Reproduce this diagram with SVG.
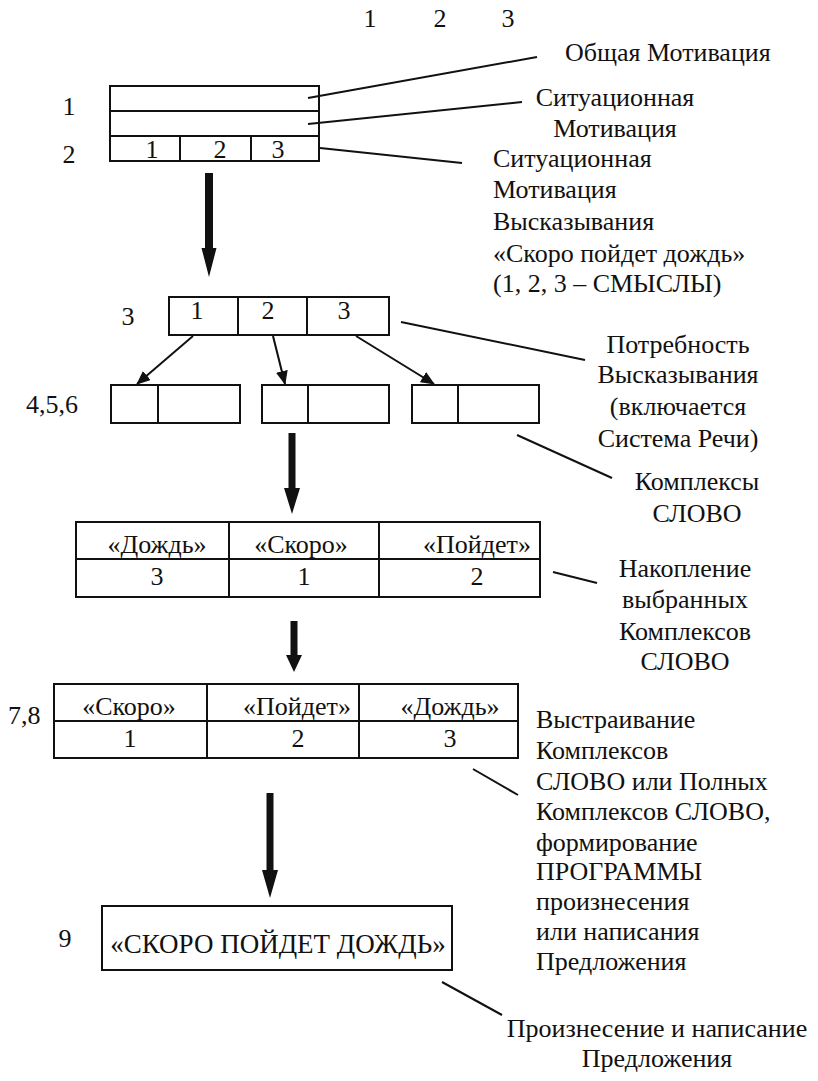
<svg xmlns="http://www.w3.org/2000/svg" width="818" height="1081" viewBox="0 0 818 1081">
<style>
text{font-family:'Liberation Serif','DejaVu Serif',serif;font-size:26px;fill:#111}
.m{text-anchor:middle}
.box{fill:none;stroke:#111;stroke-width:2}
.ln{stroke:#111;stroke-width:2;fill:none}
.big{fill:#111}
.big9{font-size:27px}
</style>
<defs>
<marker id="ah" markerWidth="14" markerHeight="12" refX="13" refY="6" orient="auto" markerUnits="userSpaceOnUse">
<path d="M0,0 L14,6 L0,12 Z" fill="#111"/>
</marker>
</defs>
<rect width="818" height="1081" fill="#fff"/>
<g font-family="Liberation Serif, DejaVu Serif, serif">
<g id="top-numbers">
<text x="370" y="27" class="m">1</text>
<text x="440" y="27" class="m">2</text>
<text x="508" y="27" class="m">3</text>
</g>

<g id="node-motivation">
<rect class="box" x="110" y="86" width="209" height="75"/>
<line class="ln" x1="110" y1="111" x2="319" y2="111"/>
<line class="ln" x1="110" y1="136" x2="319" y2="136"/>
<line class="ln" x1="180" y1="136" x2="180" y2="161"/>
<line class="ln" x1="251" y1="136" x2="251" y2="161"/>
<text x="152" y="158" class="m">1</text>
<text x="220" y="158" class="m">2</text>
<text x="278" y="158" class="m">3</text>
<text x="69" y="115" class="m">1</text>
<text x="69" y="163" class="m">2</text>
</g>

<g id="label-general">
<text x="565" y="61">Общая Мотивация</text>
</g>
<g id="label-situational">
<text x="615" y="106" class="m">Ситуационная</text>
<text x="615" y="137" class="m">Мотивация</text>
</g>
<g id="label-utterance">
<text x="493" y="167">Ситуационная</text>
<text x="493" y="198">Мотивация</text>
<text x="493" y="230">Высказывания</text>
<text x="493" y="262">«Скоро пойдет дождь»</text>
<text x="493" y="292">(1, 2, 3 – СМЫСЛЫ)</text>
</g>

<g id="node-meanings">
<rect class="box" x="169" y="297" width="220" height="38"/>
<line class="ln" x1="238" y1="297" x2="238" y2="335"/>
<line class="ln" x1="307" y1="297" x2="307" y2="335"/>
<text x="197" y="319" class="m">1</text>
<text x="268" y="319" class="m">2</text>
<text x="344" y="319" class="m">3</text>
<text x="128" y="325" class="m">3</text>
</g>

<g id="node-complexes">
<rect class="box" x="111" y="385" width="129" height="38"/>
<line class="ln" x1="158" y1="385" x2="158" y2="423"/>
<rect class="box" x="262" y="385" width="127" height="38"/>
<line class="ln" x1="308" y1="385" x2="308" y2="423"/>
<rect class="box" x="412" y="385" width="127" height="38"/>
<line class="ln" x1="458" y1="385" x2="458" y2="423"/>
<text x="26" y="413">4,5,6</text>
</g>

<g id="label-need">
<text x="678" y="353" class="m">Потребность</text>
<text x="678" y="383" class="m">Высказывания</text>
<text x="678" y="415" class="m">(включается</text>
<text x="678" y="447" class="m">Система Речи)</text>
</g>
<g id="label-complexes">
<text x="697" y="490" class="m">Комплексы</text>
<text x="697" y="522" class="m">СЛОВО</text>
</g>

<g id="node-table1">
<rect class="box" x="76" y="522" width="464" height="75"/>
<line class="ln" x1="76" y1="559" x2="540" y2="559"/>
<line class="ln" x1="229" y1="522" x2="229" y2="597"/>
<line class="ln" x1="379" y1="522" x2="379" y2="597"/>
<text x="157" y="553" class="m">«Дождь»</text>
<text x="301" y="553" class="m">«Скоро»</text>
<text x="477" y="553" class="m">«Пойдет»</text>
<text x="157" y="585" class="m">3</text>
<text x="304" y="585" class="m">1</text>
<text x="477" y="585" class="m">2</text>
</g>
<g id="label-accum">
<text x="685" y="577" class="m">Накопление</text>
<text x="685" y="608" class="m">выбранных</text>
<text x="685" y="640" class="m">Комплексов</text>
<text x="685" y="670" class="m">СЛОВО</text>
</g>

<g id="node-table2">
<rect class="box" x="54" y="684" width="464" height="74"/>
<line class="ln" x1="54" y1="721" x2="518" y2="721"/>
<line class="ln" x1="207" y1="684" x2="207" y2="758"/>
<line class="ln" x1="359" y1="684" x2="359" y2="758"/>
<text x="129" y="715" class="m">«Скоро»</text>
<text x="297" y="715" class="m">«Пойдет»</text>
<text x="450" y="715" class="m">«Дождь»</text>
<text x="130" y="747" class="m">1</text>
<text x="298" y="747" class="m">2</text>
<text x="450" y="747" class="m">3</text>
<text x="8" y="724">7,8</text>
</g>
<g id="label-build">
<text x="536" y="728">Выстраивание</text>
<text x="536" y="759">Комплексов</text>
<text x="536" y="790">СЛОВО или Полных</text>
<text x="536" y="820">Комплексов СЛОВО,</text>
<text x="536" y="851">формирование</text>
<text x="536" y="880">ПРОГРАММЫ</text>
<text x="536" y="910">произнесения</text>
<text x="536" y="940">или написания</text>
<text x="536" y="970">Предложения</text>
</g>

<g id="node-sentence">
<rect class="box" x="102" y="906" width="350" height="64"/>
<text x="278" y="953" class="m big9">«СКОРО ПОЙДЕТ ДОЖДЬ»</text>
<text x="65" y="947" class="m">9</text>
</g>
<g id="label-final">
<text x="657" y="1037" class="m">Произнесение и написание</text>
<text x="657" y="1067" class="m">Предложения</text>
</g>
</g>
<g id="connectors">
<line class="ln" x1="308" y1="98" x2="537" y2="57"/>
<line class="ln" x1="308" y1="124" x2="522" y2="102"/>
<line class="ln" x1="320" y1="148" x2="462" y2="163"/>
<line class="ln" x1="401" y1="322" x2="585" y2="360"/>
<line class="ln" x1="517" y1="435" x2="612" y2="478"/>
<line class="ln" x1="553" y1="572" x2="597" y2="583"/>
<line class="ln" x1="473" y1="769" x2="518" y2="795"/>
<line class="ln" x1="442" y1="982" x2="502" y2="1015"/>
<line class="ln" x1="193" y1="336" x2="137" y2="384" marker-end="url(#ah)"/>
<line class="ln" x1="273" y1="336" x2="285" y2="384" marker-end="url(#ah)"/>
<line class="ln" x1="356" y1="336" x2="434" y2="384" marker-end="url(#ah)"/>
<path class="big" d="M205,173 H213 V248 H216.5 L209,277 L201.5,248 H205 Z"/>
<path class="big" d="M288.5,433 H295.5 V488 H300 L292,514 L284,488 H288.5 Z"/>
<path class="big" d="M290.5,621 H297.5 V655 H302 L294,672 L286,655 H290.5 Z"/>
<path class="big" d="M266.5,793 H273.5 V870 H278 L270,898 L262,870 H266.5 Z"/>
</g>
</svg>
